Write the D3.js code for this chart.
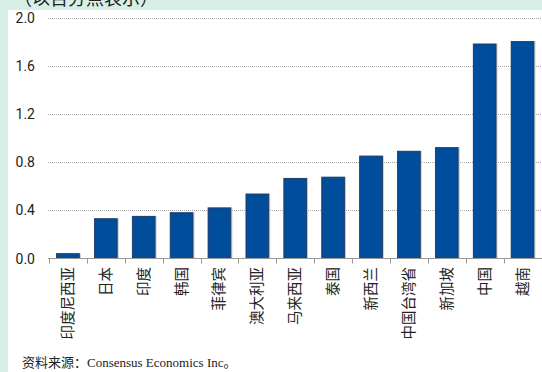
<!DOCTYPE html>
<html><head><meta charset="utf-8">
<script src="https://cdn.jsdelivr.net/npm/d3@7/dist/d3.min.js"></script>
<style>html,body{margin:0;padding:0;background:#d7efe6;}svg{display:block;}</style>
</head><body>
<svg id="c" width="542" height="372"></svg>
<script>
const categories = ["印度尼西亚","日本","印度","韩国","菲律宾","澳大利亚","马来西亚","泰国","新西兰","中国台湾省","新加坡","中国","越南"];
const values = [0.04,0.33,0.35,0.38,0.42,0.535,0.665,0.675,0.85,0.89,0.92,1.78,1.80];
const yTicks = [0.0,0.4,0.8,1.2,1.6,2.0];
const titleText = "（以百分点表示）";
const sourceText = "资料来源：Consensus Economics Inc。";

const svg = d3.select("#c");
svg.append("rect").attr("x",0).attr("y",0).attr("width",542).attr("height",372).attr("fill","#d7efe6");
svg.append("rect").attr("x",8).attr("y",10).attr("width",534).attr("height",362).attr("fill","#ffffff");

svg.append("text").attr("x",14).attr("y",5).attr("font-family","'Noto Sans CJK SC'").attr("font-size",18).attr("fill","#222").text(titleText);

const x = d3.scaleBand().domain(categories).range([49,541.5]).paddingInner(0.4).paddingOuter(0.2);
const y = d3.scaleLinear().domain([0,2]).range([258.5,17.5]);

// gridlines
svg.append("g").selectAll("line").data(yTicks.filter(d=>d>0)).join("line")
  .attr("x1",48).attr("x2",542).attr("y1",d=>Math.round(y(d))+0.5).attr("y2",d=>Math.round(y(d))+0.5)
  .attr("stroke","#aaa").attr("stroke-width",1).attr("stroke-dasharray","1,1");

// y labels
svg.append("g").selectAll("text").data(yTicks).join("text")
  .attr("x",35).attr("y",d=>y(d)+5).attr("text-anchor","end")
  .attr("font-family","'Liberation Sans Narrow','Roboto'").attr("font-size",14).attr("fill","#222")
  .text(d=>d3.format(".1f")(d));

// bars shadow
svg.append("g").selectAll("rect").data(values).join("rect")
  .attr("x",(d,i)=>x(categories[i])-0.5).attr("y",d=>y(d)-0.5)
  .attr("width",x.bandwidth()+2).attr("height",d=>y(0)-y(d)+0.5)
  .attr("fill","#c9c9c9");
svg.append("g").selectAll("rect").data(values).join("rect")
  .attr("x",(d,i)=>x(categories[i])).attr("y",d=>y(d))
  .attr("width",x.bandwidth()).attr("height",d=>y(0)-y(d))
  .attr("fill","#004d9c").attr("stroke","#1c3560").attr("stroke-width",0.8);

// x axis
const ax = svg.append("g").attr("transform","translate(0,258.5)");
ax.append("line").attr("x1",48).attr("x2",542).attr("stroke","#999").attr("stroke-width",1);
const bounds = categories.map(c=>x(c)-x.step()*x.paddingInner()/2).concat([541.5]);
ax.selectAll("line.t").data(bounds).join("line").attr("class","t")
  .attr("x1",d=>Math.round(d)+0.5).attr("x2",d=>Math.round(d)+0.5).attr("y1",0).attr("y2",5)
  .attr("stroke","#999");

svg.append("g").selectAll("text").data(categories).join("text")
  .attr("transform",d=>`translate(${x(d)+x.bandwidth()/2+5},267) rotate(-90)`)
  .attr("text-anchor","end")
  .attr("font-family","'Noto Sans CJK SC'").attr("font-size",14.5).attr("fill","#222")
  .text(d=>d);

svg.append("text").attr("x",22).attr("y",367)
  .attr("font-family","'Liberation Serif','Noto Sans CJK SC'").attr("font-size",13).attr("fill","#222")
  .text(sourceText);
</script>
</body></html>
